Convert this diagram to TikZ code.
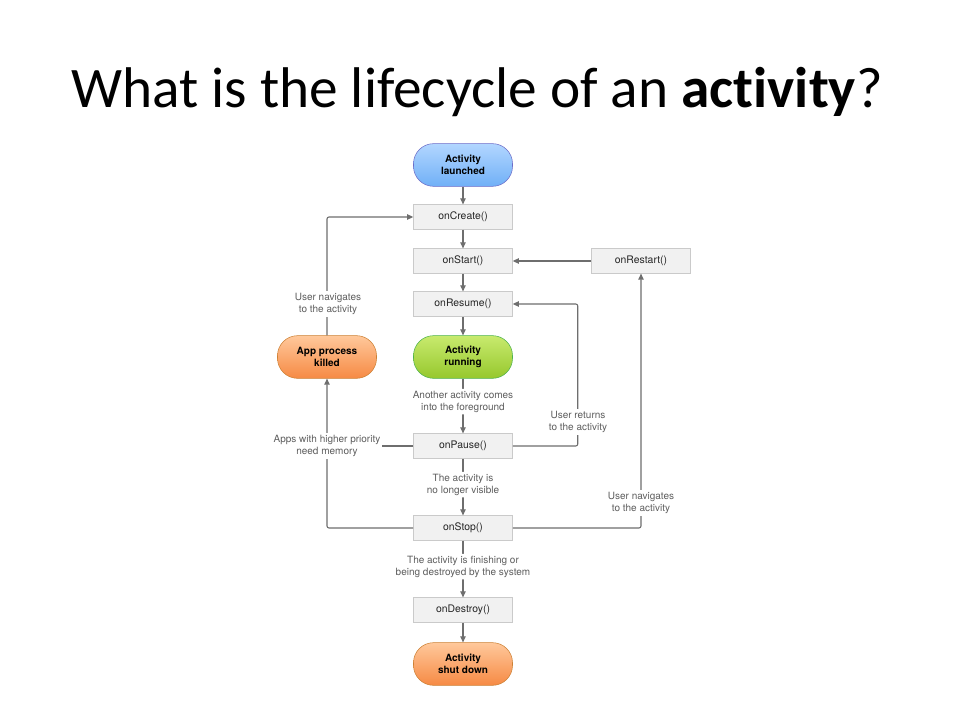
\documentclass[tikz,border=0pt]{standalone}
\usepackage{fontspec}
\setmainfont{Carlito}[Ligatures=NoCommon]
\newfontfamily\helv{TeX Gyre Heros}
\usetikzlibrary{positioning,arrows.meta}

\definecolor{boxfill}{HTML}{F1F1F1}
\definecolor{boxline}{HTML}{CACACA}
\definecolor{linegray}{HTML}{6E6E6E}
\definecolor{labelgray}{HTML}{5E5E5E}

\tikzset{
  method/.style={draw=boxline, fill=boxfill, minimum width=74.25pt, minimum height=18.5pt,
    inner sep=0pt, font=\helv\fontsize{7.8}{9}\selectfont, text=black!85},
  pill/.style={rounded corners=15pt, minimum width=74.25pt, minimum height=32pt, inner sep=0pt,
    align=center, font=\helv\bfseries\fontsize{7.5}{9}\selectfont},
  bluepill/.style={pill, draw=blue!45!gray!80, top color={rgb,255:red,178;green,214;blue,255}, bottom color={rgb,255:red,112;green,176;blue,247}},
  greenpill/.style={pill, draw=green!40!gray, top color={rgb,255:red,200;green,234;blue,110}, bottom color={rgb,255:red,150;green,200;blue,45}},
  orangepill/.style={pill, draw=orange!60!gray, top color={rgb,255:red,255;green,200;blue,155}, bottom color={rgb,255:red,246;green,138;blue,68}},
  note/.style={fill=white, align=center, inner sep=1.5pt, text=labelgray,
    font=\helv\fontsize{7.5}{9}\selectfont},
  flow/.style={->, draw=linegray, line width=0.8pt, rounded corners=1.5pt},
  link/.style={draw=linegray, line width=0.8pt, rounded corners=1.5pt}
}

\begin{document}
\begin{tikzpicture}
    [x=0.75pt, y=-0.75pt, >={Triangle[length=4.5pt,width=4pt]}]

    \useasboundingbox[fill=white] (0,0) rectangle (960,720);

    % title
    \node (title) [anchor=base, font=\fontsize{43}{52}\selectfont, inner sep=0pt] at (477,108)
      {What is the lifecycle of an \textbf{activity}?};

    % main column
    \node (launched) [bluepill] at (463,165) {Activity\\launched};
    \node (create) [method] at (463,217) {onCreate()};
    \node (start) [method] at (463,261) {onStart()};
    \node (restart) [method] at (641,261) {onRestart()};
    \node (resume) [method] at (463,304) {onResume()};
    \node (running) [greenpill] at (463,357) {Activity\\running};
    \node (killed) [orangepill] at (327,357) {App process\\killed};
    \node (pause) [method] at (463,446) {onPause()};
    \node (stop) [method] at (463,528) {onStop()};
    \node (destroy) [method] at (463,610) {onDestroy()};
    \node (shutdown) [orangepill] at (463,664) {Activity\\shut down};

    % straight flow
    \draw[flow] (launched) -- (create);
    \draw[flow] (create) -- (start);
    \draw[flow] (start) -- (resume);
    \draw[flow] (resume) -- (running);
    \draw[flow] (running) -- (pause)
      node[note, pos=0.42] {Another activity comes\\into the foreground};
    \draw[flow] (pause) -- (stop)
      node[note, pos=0.46] {The activity is\\no longer visible};
    \draw[flow] (stop) -- (destroy)
      node[note, pos=0.46] {The activity is finishing or\\being destroyed by the system};
    \draw[flow] (destroy) -- (shutdown);
    \draw[flow] (restart) -- (start);

    % loops on the right
    \draw[flow] (pause.east) -- ++(65,0) |- (resume.east);
    \node[note] at (578,422) {User returns\\to the activity};
    \draw[flow] (stop.east) -| (restart.south);
    \node[note] at (641,503) {User navigates\\to the activity};

    % loops on the left
    \draw[link] (pause.west) -- (pause.west -| killed.south);
    \draw[flow] (stop.west) -| (killed.south);
    \node[note] at (327,446) {Apps with higher priority\\need memory};
    \draw[flow] (killed.north) |- (create.west);
    \node[note] at (328,304) {User navigates\\to the activity};
\end{tikzpicture}
\end{document}
